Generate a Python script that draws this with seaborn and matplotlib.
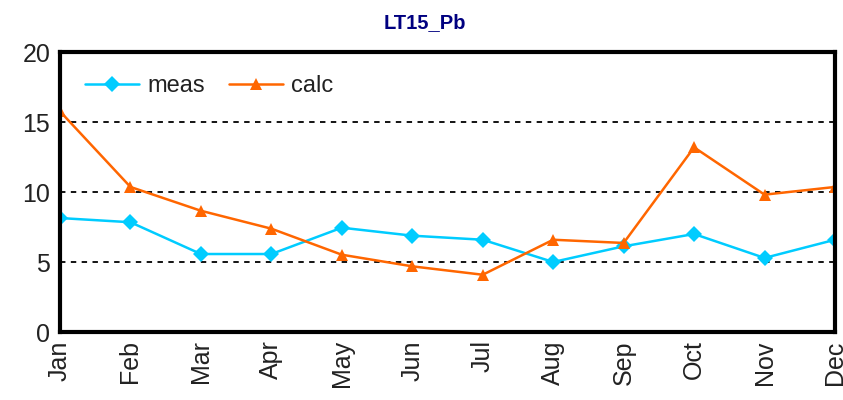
import matplotlib
matplotlib.use("Agg")
import matplotlib.pyplot as plt
from matplotlib.lines import Line2D
import seaborn as sns
import pandas as pd

months = ["Jan", "Feb", "Mar", "Apr", "May", "Jun", "Jul", "Aug", "Sep", "Oct", "Nov", "Dec"]
meas = [8.14, 7.84, 5.57, 5.57, 7.45, 6.88, 6.59, 5.0, 6.12, 7.0, 5.29, 6.59]
calc = [15.76, 10.36, 8.66, 7.38, 5.52, 4.69, 4.09, 6.59, 6.36, 13.19, 9.81, 10.36]
series_names = ["meas", "calc"]
title = "LT15_Pb"
yticks = [0, 5, 10, 15, 20]

sns.set_style("white")
plt.rcParams["font.family"] = ["Liberation Sans", "DejaVu Sans"]

df = pd.DataFrame({
    "x": list(range(len(months))) * 2,
    "value": meas + calc,
    "series": [series_names[0]] * len(months) + [series_names[1]] * len(months),
})

colors = {"meas": "#00CCFF", "calc": "#FF6600"}
markers = {"meas": "D", "calc": "^"}

fig = plt.figure(figsize=(8.43, 4.0), dpi=100)
ax = fig.add_axes([60 / 843, 68 / 400, 775 / 843, 280 / 400])

sns.lineplot(data=df, x="x", y="value", hue="series", style="series",
             palette=colors, markers=markers, dashes=False, markersize=8.5,
             markeredgewidth=0, linewidth=1.8, ax=ax, legend=False)

ax.set_xlim(0, len(months) - 1)
ax.set_ylim(0, 20)
ax.set_yticks(yticks)
ax.set_xticks(range(len(months)))
ax.set_xticklabels(months, rotation=90, fontsize=18)
ax.tick_params(axis="y", labelsize=18, direction="out", length=5, width=1.5, colors="black", pad=2)
ax.tick_params(axis="x", direction="inout", length=10, width=1.5, colors="black", pad=1)
for lab in ax.get_yticklabels() + ax.get_xticklabels():
    lab.set_color("#222222")
ax.set_xlabel("")
ax.set_ylabel("")

for y in [5, 10, 15]:
    ax.axhline(y, color="black", linestyle=(0, (3, 3)), linewidth=1.3, zorder=0)

for s in ax.spines.values():
    s.set_visible(True)
    s.set_color("black")
    s.set_linewidth(3)

handles = [Line2D([], [], color=colors[n], marker=markers[n], markersize=8.5,
                  markeredgewidth=0, linewidth=1.8) for n in series_names]
leg = ax.legend(handles, series_names, loc="upper left", bbox_to_anchor=(0.032, 0.917),
                ncol=2, frameon=False, fontsize=17, handlelength=2.3, columnspacing=1.0,
                handletextpad=0.35, borderpad=0, borderaxespad=0)
for t in leg.get_texts():
    t.set_color("#222222")

fig.text(425 / 843, 1 - 23 / 400, title, ha="center", va="center",
         fontsize=14.5, fontweight="bold", color="#000080")

fig.savefig("out.png", dpi=100)
